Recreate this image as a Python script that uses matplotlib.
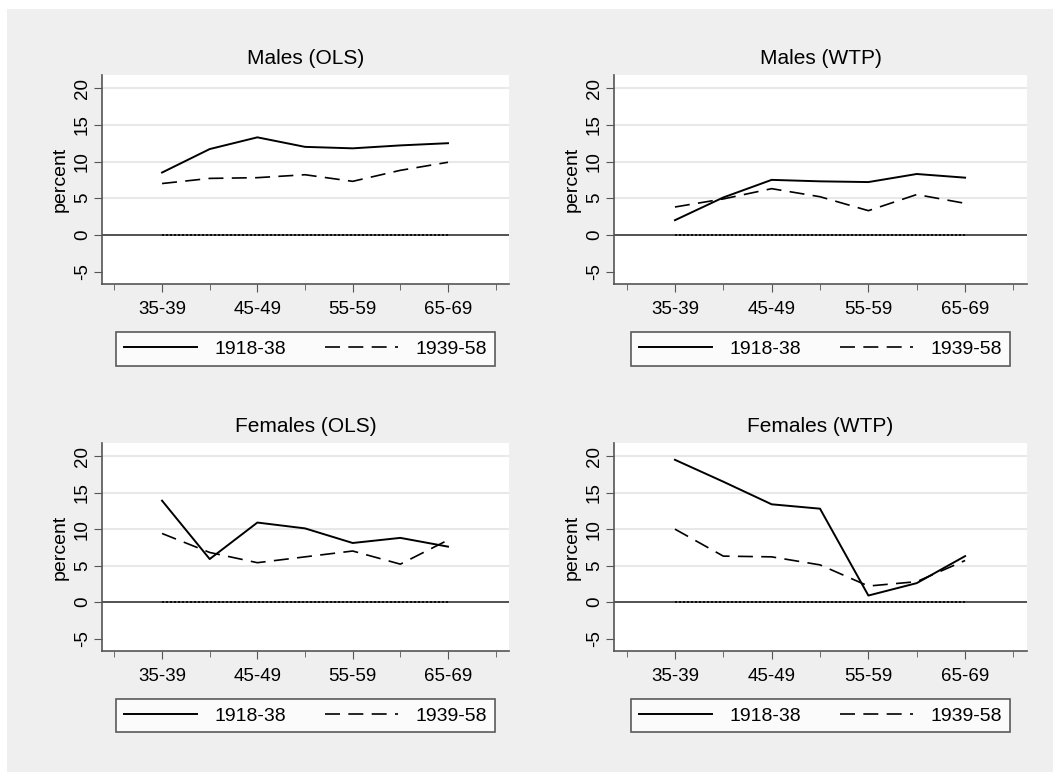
import matplotlib.pyplot as plt
from matplotlib.patches import Rectangle
import numpy as np

plt.rcParams['font.family'] = ['Liberation Sans', 'DejaVu Sans']

## Data

age_groups = ['35-39', '40-44', '45-49', '50-54', '55-59', '60-64', '65-69']
label_groups = ['35-39', '45-49', '55-59', '65-69']
cohorts = ['1918-38', '1939-58']
titles = ['Males (OLS)', 'Males (WTP)', 'Females (OLS)', 'Females (WTP)']

males_ols_old = [8.5, 11.7, 13.3, 12.0, 11.8, 12.2, 12.5]
males_ols_new = [7.0, 7.7, 7.8, 8.2, 7.3, 8.8, 9.9]
males_wtp_old = [2.0, 5.1, 7.5, 7.3, 7.2, 8.3, 7.8]
males_wtp_new = [3.8, 4.9, 6.3, 5.2, 3.3, 5.5, 4.3]
females_ols_old = [13.9, 5.9, 10.9, 10.1, 8.1, 8.8, 7.6]
females_ols_new = [9.4, 6.8, 5.4, 6.2, 7.0, 5.2, 8.5]
females_wtp_old = [19.5, 16.5, 13.4, 12.8, 0.9, 2.6, 6.3]
females_wtp_new = [10.0, 6.3, 6.2, 5.1, 2.2, 2.8, 5.7]

series_old = [males_ols_old, males_wtp_old, females_ols_old, females_wtp_old]
series_new = [males_ols_new, males_wtp_new, females_ols_new, females_wtp_new]

## Layout (pixel boxes of the panels)

W, H = 1053, 772
fig = plt.figure(figsize=(W / 100, H / 100), dpi=100)
fig.patch.set_facecolor('white')
fig.patches.append(Rectangle((7 / W, 0), 1 - 7 / W, 1 - 9 / H,
                             transform=fig.transFigure, facecolor='#efefef',
                             edgecolor='none', zorder=-10))

boxes = [(102, 509, 75, 284), (614, 1027, 75, 284),
         (102, 509, 443, 651), (614, 1027, 443, 651)]

x = np.arange(len(age_groups))
spine_col = '#555555'

for i, (l, r, t, b) in enumerate(boxes):
    ax = fig.add_axes([l / W, 1 - b / H, (r - l) / W, (b - t) / H])
    ax.set_facecolor('white')

    ax.plot(x, series_old[i], color='black', lw=1.4, label=cohorts[0], zorder=3)
    ax.plot(x, series_new[i], color='black', lw=1.2, dashes=(9, 5),
            label=cohorts[1], zorder=3)
    ax.plot(x, np.zeros(len(x)), color='black', lw=1.2, ls=(0, (1.2, 1.2)), zorder=4)
    ax.axhline(0, color='#444444', lw=1.3, zorder=2)

    ax.set_xlim(-1.26, 7.28)
    ax.set_ylim(-6.7, 21.8)

    ax.set_yticks([-5, 0, 5, 10, 15, 20])
    ax.set_yticklabels(['-5', '0', '5', '10', '15', '20'], rotation=90,
                       va='center', fontsize=13.5)
    for yv in [5, 10, 15, 20]:
        ax.axhline(yv, color='#e8e8e8', lw=1.5, zorder=1)

    ax.set_xticks([0, 2, 4, 6])
    ax.set_xticklabels(label_groups, fontsize=13.5)
    ax.set_xticks([-1, 1, 3, 5, 7], minor=True)
    ax.tick_params(axis='x', which='major', length=6, color=spine_col, pad=6)
    ax.tick_params(axis='x', which='minor', length=4, color=spine_col)
    ax.tick_params(axis='y', length=6, color=spine_col, pad=2)

    for s in ['top', 'right']:
        ax.spines[s].set_visible(False)
    for s in ['left', 'bottom']:
        ax.spines[s].set_color(spine_col)
        ax.spines[s].set_linewidth(1.2)

    ax.set_ylabel('percent', fontsize=14, labelpad=4)
    ax.set_title(titles[i], fontsize=15, pad=8)

    leg = ax.legend(loc='upper center', bbox_to_anchor=(0.5, -0.185), ncol=2,
                    frameon=True, fancybox=False, fontsize=14,
                    handlelength=3.75, columnspacing=2.05, handletextpad=0.9,
                    borderpad=0.4, edgecolor='#333333')
    leg.get_frame().set_linewidth(1.2)

fig.savefig('out.png', dpi=100, facecolor=fig.get_facecolor())
